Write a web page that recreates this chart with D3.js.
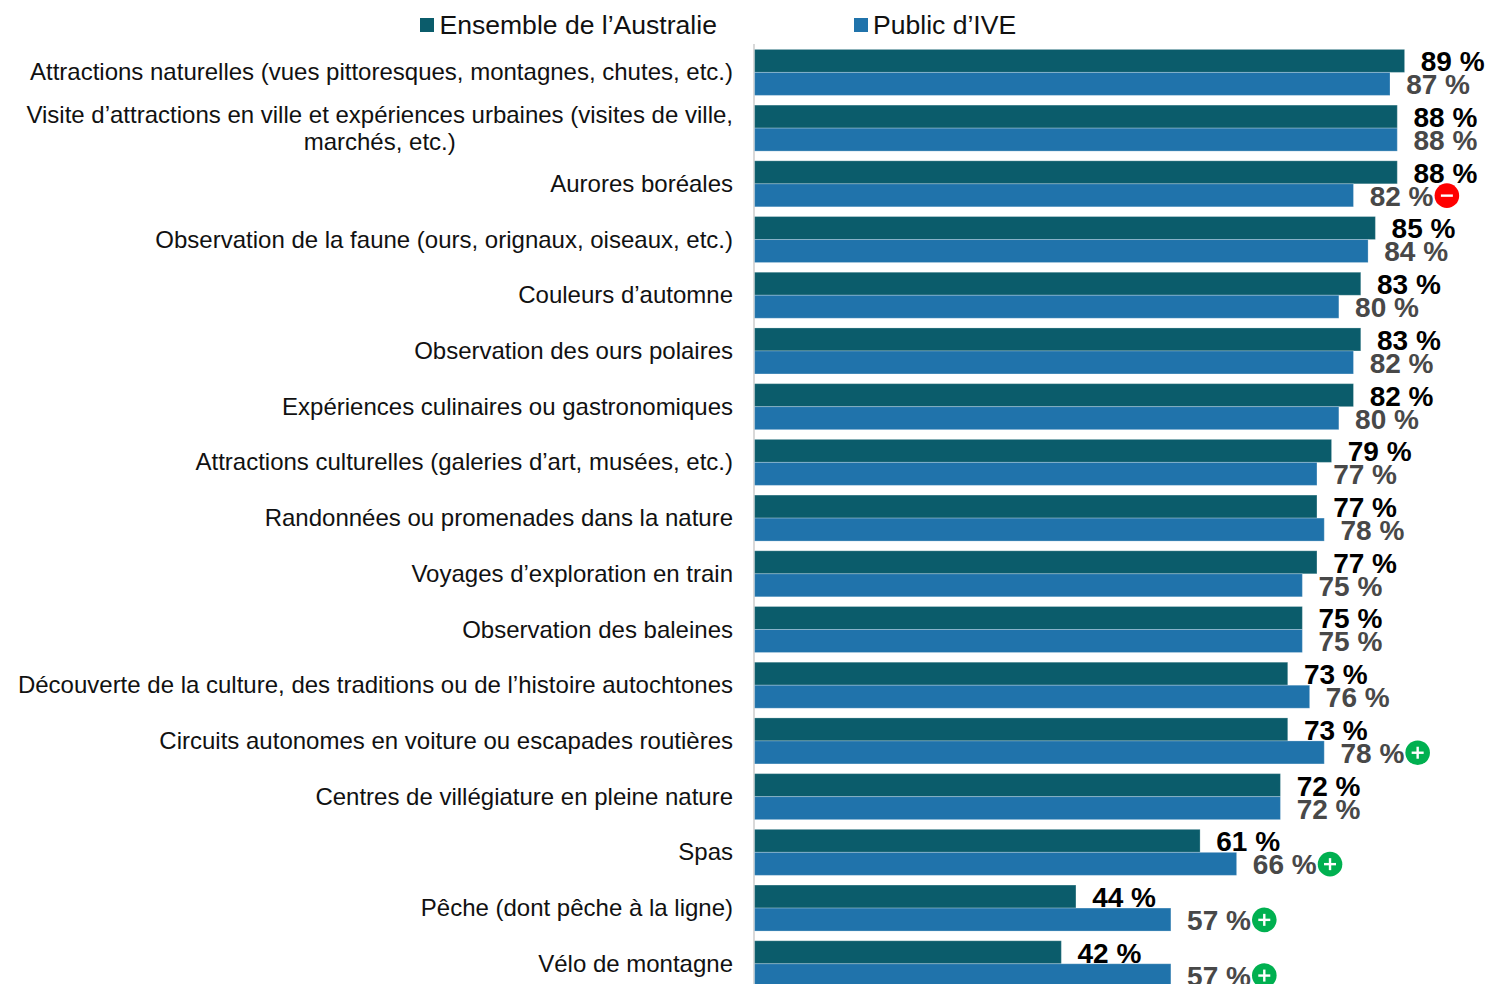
<!DOCTYPE html>
<html>
<head>
  <meta charset="utf-8">
  <title>Intérêt pour les activités</title>
  <script src="https://d3js.org/d3.v7.min.js"></script>
  <style>
    html, body { margin: 0; padding: 0; background: #fff; overflow: hidden; }
    svg { display: block; }
    text { font-family: "Liberation Sans", Arial, sans-serif; }
    .cat text { font-size: 24px; fill: #111; }
    .val { font-size: 28px; font-weight: bold; }
    .legend text { font-size: 26.55px; fill: #111; }
  </style>
</head>
<body>
  <svg width="1489" height="984"></svg>
  <script>
    // Categories, "\n" marks a line break in the label
    const categories = [
      "Attractions naturelles (vues pittoresques, montagnes, chutes, etc.)",
      "Visite d’attractions en ville et expériences urbaines (visites de ville,\nmarchés, etc.)",
      "Aurores boréales",
      "Observation de la faune (ours, orignaux, oiseaux, etc.)",
      "Couleurs d’automne",
      "Observation des ours polaires",
      "Expériences culinaires ou gastronomiques",
      "Attractions culturelles (galeries d’art, musées, etc.)",
      "Randonnées ou promenades dans la nature",
      "Voyages d’exploration en train",
      "Observation des baleines",
      "Découverte de la culture, des traditions ou de l’histoire autochtones",
      "Circuits autonomes en voiture ou escapades routières",
      "Centres de villégiature en pleine nature",
      "Spas",
      "Pêche (dont pêche à la ligne)",
      "Vélo de montagne"
    ];
    const seriesNames = ["Ensemble de l’Australie", "Public d’IVE"];
    const australie = [89, 88, 88, 85, 83, 83, 82, 79, 77, 77, 75, 73, 73, 72, 61, 44, 42];
    const ive = [87, 88, 82, 84, 80, 82, 80, 77, 78, 75, 75, 76, 78, 72, 66, 57, 57];
    // +1 / -1 : significantly above / below the Australian average
    const ecart = [0, 0, -1, 0, 0, 0, 0, 0, 0, 0, 0, 0, 1, 0, 1, 1, 1];

    const colors = ["#0b5c6b", "#2073ab"];
    const labelColors = ["#000", "#484848"];

    const svg = d3.select("svg");

    const x = d3.scaleLinear().domain([0, 89]).range([754.6, 1404.6]);
    const y = d3.scaleBand().domain(categories)
      .range([49.4, 49.4 + 17 * 55.71 - 9.7]).paddingInner(9.7 / 55.71);
    const y1 = d3.scaleBand().domain([0, 1]).range([0, y.bandwidth()]);

    // Vertical axis line
    svg.append("line")
      .attr("x1", 754).attr("x2", 754).attr("y1", 44).attr("y2", 984)
      .attr("stroke", "#d9d9d9").attr("stroke-width", 2);

    // Category labels
    const axis = svg.append("g").attr("class", "cat")
      .attr("transform", "translate(755,0.4)")
      .call(d3.axisLeft(y).tickSize(0).tickPadding(22));
    axis.select(".domain").remove();
    axis.selectAll("text").each(function(d) {
      const lines = d.split("\n");
      if (lines.length < 2) return;
      const t = d3.select(this).text(null).attr("dy", null);
      const first = t.append("tspan").attr("x", -22).attr("dy", "-0.24em").text(lines[0]);
      const w = first.node().getComputedTextLength();
      const second = t.append("tspan").attr("dy", "1.13em").text(lines[1]);
      // second line is centred under the first one
      second.attr("x", -22 - (w - second.node().getComputedTextLength()) / 2);
    });

    // Bars and value labels
    [australie, ive].forEach((values, s) => {
      const g = svg.append("g");
      const rows = categories.map((c, i) => ({ c, i, v: values[i] }));
      g.selectAll("rect").data(rows).enter().append("rect")
        .attr("x", x(0))
        .attr("y", d => y(d.c) + y1(s))
        .attr("width", d => x(d.v) - x(0))
        .attr("height", y1.bandwidth())
        .attr("fill", colors[s])
        .attr("stroke", "#ffffff").attr("stroke-opacity", 0.25).attr("stroke-width", 1);
      g.selectAll("text").data(rows).enter().append("text")
        .attr("class", "val")
        .attr("x", d => x(d.v) + 16.2)
        .attr("y", d => y(d.c) + y1(s) + y1.bandwidth() / 2 + 0.3)
        .attr("dy", "0.36em")
        .attr("fill", labelColors[s])
        .text(d => d.v + " %");
    });

    // Significance badges after the IVE label
    const badges = svg.append("g").selectAll("g")
      .data(categories.map((c, i) => ({ c, i, e: ecart[i] })).filter(d => d.e !== 0))
      .enter().append("g")
      .attr("transform", d => `translate(${x(ive[d.i]) + 93.4},${y(d.c) + y1(1) + y1.bandwidth() / 2 + 0.3})`);
    badges.append("circle").attr("r", 12.3)
      .attr("fill", d => d.e > 0 ? "#00b050" : "#ff0000");
    badges.append("line").attr("x1", -6).attr("x2", 6)
      .attr("stroke", "#fff").attr("stroke-width", 2.4);
    badges.filter(d => d.e > 0).append("line").attr("y1", -6).attr("y2", 6)
      .attr("stroke", "#fff").attr("stroke-width", 2.4);

    // Legend
    const legendX = [420, 854];
    const legend = svg.append("g").attr("class", "legend").selectAll("g")
      .data(seriesNames).enter().append("g")
      .attr("transform", (d, i) => `translate(${legendX[i]},0)`);
    legend.append("rect").attr("y", 18).attr("width", 14).attr("height", 14)
      .attr("fill", (d, i) => colors[i]);
    legend.append("text").attr("x", (d, i) => i ? 19 : 19.5).attr("y", 34).text(d => d);
  </script>
</body>
</html>
